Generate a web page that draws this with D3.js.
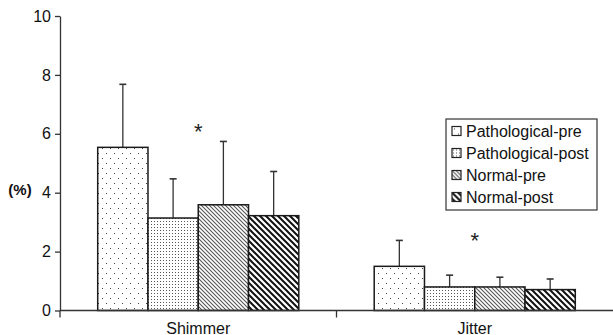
<!DOCTYPE html>
<html lang="en">
<head>
<meta charset="UTF-8">
<title>Shimmer and Jitter</title>
<script src="https://d3js.org/d3.v7.min.js"></script>
<style>
  body { margin: 0; background: #fff; }
  svg { display: block; font-family: "Liberation Sans", Arial, sans-serif; }
  .axis path, .axis line { stroke: #333; stroke-width: 1.3; }
  .axis text { font-size: 16px; fill: #111; }
</style>
</head>
<body>
<svg id="chart" width="613" height="335"></svg>
<script>
// data
const categories = ["Shimmer", "Jitter"];
const series = ["Pathological-pre", "Pathological-post", "Normal-pre", "Normal-post"];
const means = {
  "Pathological-pre":  [5.54, 1.50],
  "Pathological-post": [3.14, 0.80],
  "Normal-pre":        [3.59, 0.80],
  "Normal-post":       [3.22, 0.71]
};
const upper = {   // top of error bar
  "Pathological-pre":  [7.68, 2.38],
  "Pathological-post": [4.47, 1.20],
  "Normal-pre":        [5.74, 1.13],
  "Normal-post":       [4.72, 1.07]
};
const starLevel = [6.25, 2.58];
const yTicks = [0, 2, 4, 6, 8, 10];

const svg = d3.select("#chart");
const margin = {top: 16, right: 0, bottom: 24, left: 60};
const width = +svg.attr("width") - margin.left - margin.right;
const height = +svg.attr("height") - margin.top - margin.bottom;

// patterns
const defs = svg.append("defs");
const pPre = defs.append("pattern").attr("id", "p0").attr("patternUnits", "userSpaceOnUse")
  .attr("width", 8).attr("height", 10);
pPre.append("rect").attr("x", 2).attr("y", 2).attr("width", 1).attr("height", 1).attr("fill", "#444");
pPre.append("rect").attr("x", 6).attr("y", 7).attr("width", 1).attr("height", 1).attr("fill", "#444");

const pPost = defs.append("pattern").attr("id", "p1").attr("patternUnits", "userSpaceOnUse")
  .attr("width", 3).attr("height", 3);
pPost.append("rect").attr("width", 3).attr("height", 3).attr("fill", "#fff");
pPost.append("rect").attr("x", 1).attr("y", 1).attr("width", 1).attr("height", 1).attr("fill", "#555");

const pNPre = defs.append("pattern").attr("id", "p2").attr("patternUnits", "userSpaceOnUse")
  .attr("width", 4).attr("height", 4);
pNPre.append("path").attr("d", "M-1,-1 L5,5 M-1,3 L1,5 M3,-1 L5,1")
  .attr("stroke", "#555").attr("stroke-width", 1.1);

const pNPost = defs.append("pattern").attr("id", "p3").attr("patternUnits", "userSpaceOnUse")
  .attr("width", 6).attr("height", 6);
pNPost.append("path").attr("d", "M-1,-1 L7,7 M-1,5 L1,7 M5,-1 L7,1")
  .attr("stroke", "#111").attr("stroke-width", 2);

const fills = d3.scaleOrdinal().domain(series).range(["url(#p0)", "url(#p1)", "url(#p2)", "url(#p3)"]);

const g = svg.append("g").attr("transform", `translate(${margin.left},${margin.top})`);

const x0 = d3.scaleBand().domain(categories).range([0, width]);
const x1 = d3.scaleBand().domain(series).range([0, x0.bandwidth()]).paddingInner(0).paddingOuter(0.75);
const y = d3.scaleLinear().domain([0, 10]).range([height - 0.5, 0]);

// bars
const rows = [];
categories.forEach((c, i) => series.forEach(s => rows.push({c, s, v: means[s][i], hi: upper[s][i]})));

const grp = g.selectAll(".bar").data(rows).enter().append("g").attr("class", "bar");

// error bars drawn behind bars
grp.append("line")
  .attr("x1", d => x0(d.c) + x1(d.s) + x1.bandwidth() / 2)
  .attr("x2", d => x0(d.c) + x1(d.s) + x1.bandwidth() / 2)
  .attr("y1", d => y(d.v)).attr("y2", d => y(d.hi))
  .attr("stroke", "#333").attr("stroke-width", 1.3);
grp.append("line")
  .attr("x1", d => x0(d.c) + x1(d.s) + x1.bandwidth() / 2 - 3.5)
  .attr("x2", d => x0(d.c) + x1(d.s) + x1.bandwidth() / 2 + 3.5)
  .attr("y1", d => y(d.hi)).attr("y2", d => y(d.hi))
  .attr("stroke", "#333").attr("stroke-width", 1.6);

grp.append("rect")
  .attr("x", d => x0(d.c) + x1(d.s))
  .attr("y", d => y(d.v))
  .attr("width", x1.bandwidth())
  .attr("height", d => y(0) - y(d.v))
  .attr("fill", "#fff")
  .attr("stroke", "none");
grp.append("rect")
  .attr("x", d => x0(d.c) + x1(d.s))
  .attr("y", d => y(d.v))
  .attr("width", x1.bandwidth())
  .attr("height", d => y(0) - y(d.v))
  .attr("fill", d => fills(d.s))
  .attr("stroke", "#1a1a1a").attr("stroke-width", 1.5);

// y axis
g.append("g").attr("class", "axis")
  .call(d3.axisLeft(y).tickValues(yTicks).tickSize(5).tickSizeOuter(0).tickPadding(4));

// x axis line with category boundary ticks
const xAxis = g.append("g").attr("class", "axis").attr("transform", `translate(0,${y(0)})`);
xAxis.append("line").attr("x1", 0).attr("x2", width).attr("y1", 0).attr("y2", 0);
xAxis.selectAll(".bt").data(categories).enter().append("line")
  .attr("x1", d => x0(d)).attr("x2", d => x0(d)).attr("y1", 0).attr("y2", 7);
xAxis.selectAll(".lbl").data(categories).enter().append("text")
  .attr("x", d => x0(d) + x0.bandwidth() / 2).attr("y", 23)
  .attr("text-anchor", "middle").text(d => d);

// asterisks
g.selectAll(".star").data(categories).enter().append("text")
  .attr("x", d => x0(d) + x0.bandwidth() / 2)
  .attr("y", (d, i) => y(starLevel[i]) + 13)
  .attr("text-anchor", "middle").attr("font-size", 22).attr("fill", "#222")
  .text("*");

// y label
svg.append("text").attr("x", 20).attr("y", 195).attr("text-anchor", "middle")
  .attr("font-size", 15).attr("font-weight", "bold").attr("fill", "#111").text("(%)");

// legend
const leg = svg.append("g").attr("transform", "translate(446,119)");
leg.append("rect").attr("width", 151).attr("height", 91).attr("fill", "#fff")
  .attr("stroke", "#333").attr("stroke-width", 1.2);
const li = leg.selectAll(".li").data(series).enter().append("g")
  .attr("transform", (d, i) => `translate(6,${7.5 + i * 22})`);
li.append("rect").attr("width", 9).attr("height", 9).attr("fill", "#fff");
li.append("rect").attr("width", 9).attr("height", 9).attr("fill", d => fills(d))
  .attr("stroke", "#222").attr("stroke-width", 1.2);
li.append("text").attr("x", 14).attr("y", 10.5).attr("font-size", 16).attr("fill", "#111").text(d => d);
</script>
</body>
</html>
